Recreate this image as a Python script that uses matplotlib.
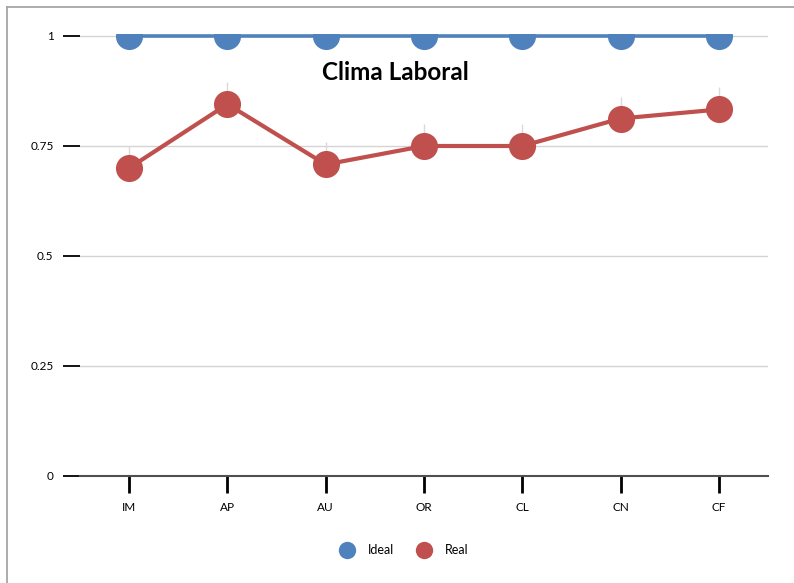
import matplotlib
matplotlib.use("Agg")
import matplotlib.pyplot as plt
from matplotlib.lines import Line2D
import numpy as np

plt.rcParams['font.family'] = ['Lato', 'DejaVu Sans']

categories = ["IM", "AP", "AU", "OR", "CL", "CN", "CF"]
ideal = [1, 1, 1, 1, 1, 1, 1]
real = [0.70, 0.845, 0.708, 0.75, 0.75, 0.8125, 0.833]
real_err_up = [0.05, 0.05, 0.05, 0.05, 0.05, 0.05, 0.05]
y_ticks = [0, 0.25, 0.5, 0.75, 1]
y_labels = ["0", "0.25", "0.5", "0.75", "1"]

blue = "#4F81BD"
red = "#C0504D"

W, H = 794, 583
y_top = 1.004
px_per_unit = 440.0
ax_h = y_top * px_per_unit
fig = plt.figure(figsize=(W / 100, H / 100), dpi=100)
ax = fig.add_axes([80 / W, (H - 476) / H, (768 - 80) / W, ax_h / H])

x = np.arange(len(categories))

# upper error whiskers above the measured values
ax.errorbar(x, real, yerr=[np.zeros(len(real)), real_err_up], fmt="none",
            ecolor="#DADADA", elinewidth=1, capsize=0, zorder=1)

ax.plot(x, ideal, color=blue, lw=2.6, marker="o", markersize=19.5,
        markeredgewidth=0, zorder=3)
ax.plot(x, real, color=red, lw=3.0, marker="o", markersize=19.5,
        markeredgewidth=0, zorder=3)

ax.set_xlim(-0.5, len(categories) - 0.5)
ax.set_ylim(0, y_top)
ax.set_xticks(x)
ax.set_xticklabels(categories, fontsize=8.5)
ax.set_yticks(y_ticks)
ax.set_yticklabels(y_labels, fontsize=8.5)

ax.yaxis.grid(True, color="#D4D4D4", lw=1)
ax.set_axisbelow(True)
for s in ["top", "right", "left"]:
    ax.spines[s].set_visible(False)
ax.spines["bottom"].set_color("#505050")
ax.spines["bottom"].set_linewidth(1.5)

ax.tick_params(axis="y", length=12, width=1.3, color="black", pad=7)
ax.tick_params(axis="x", length=12, width=2, color="black", pad=7)

fig.text(395 / W, 1 - 73 / H, "Clima Laboral", ha="center", va="center",
         fontsize=17.5, fontweight="bold")

handles = [
    Line2D([], [], ls="none", marker="o", markersize=12.5, color=blue, markeredgewidth=0),
    Line2D([], [], ls="none", marker="o", markersize=12.5, color=red, markeredgewidth=0),
]
fig.legend(handles, ["Ideal", "Real"], loc="center", bbox_to_anchor=(404 / W, 1 - 550 / H),
           ncol=2, frameon=False, fontsize=9, handletextpad=1.05, columnspacing=1.85,
           handlelength=1.2)

# outer chart frame
fig.add_artist(Line2D([7 / W, 7 / W], [0, 1 - 7 / H], color="#A6A6A6", lw=1.3))
fig.add_artist(Line2D([7 / W, 1], [1 - 7 / H, 1 - 7 / H], color="#A6A6A6", lw=1.3))

fig.savefig("out.png", dpi=100)
